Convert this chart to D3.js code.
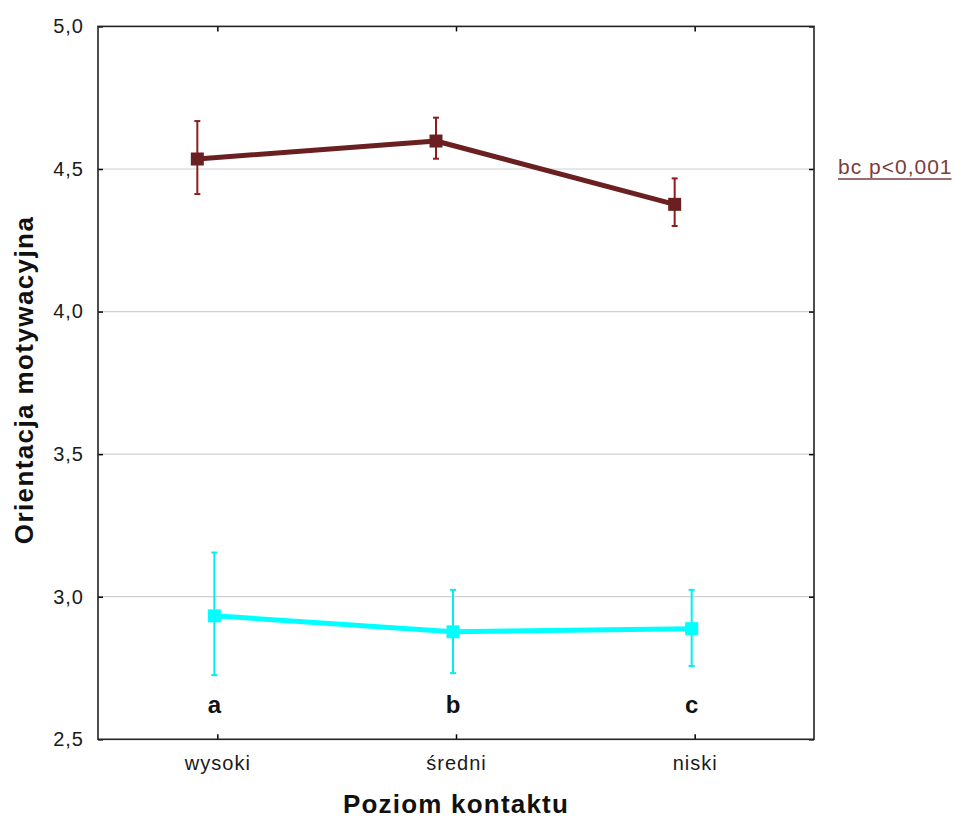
<!DOCTYPE html>
<html><head><meta charset="utf-8">
<script src="https://cdn.jsdelivr.net/npm/d3@7"></script>
<style>body{margin:0;background:#fff;}svg{display:block;font-family:"Liberation Sans",Arial,sans-serif;}</style>
</head><body>
<svg id="c" width="956" height="818"></svg>
<script>
const categories = ["wysoki", "średni", "niski"];
const groupLetters = ["a", "b", "c"];
const yTicks = [2.5, 3.0, 3.5, 4.0, 4.5, 5.0];
const highMean = [4.535, 4.598, 4.376];
const highLow  = [4.412, 4.536, 4.300];
const highHigh = [4.668, 4.680, 4.467];
const lowMean  = [2.933, 2.877, 2.888];
const lowLow   = [2.725, 2.732, 2.757];
const lowHigh  = [3.155, 3.024, 3.024];
const noteText = "bc p<0,001";

const svg = d3.select("#c");
const L = 98, R = 814, T = 26.4, B = 739.3;
const x = d3.scalePoint().domain(categories).range([L, R]).padding(0.5);
const y = d3.scaleLinear().domain([2.5, 5.0]).range([B, T]);
const fmt = d => d.toFixed(1).replace(".", ",");

// gridlines
svg.append("g").selectAll("line").data(yTicks.filter(d => d > 2.5 && d < 5)).join("line")
  .attr("x1", L).attr("x2", R).attr("y1", d => y(d)).attr("y2", d => y(d))
  .attr("stroke", "#d0d0d0").attr("stroke-width", 1.2);

// axes with inward ticks
const axL = svg.append("g").attr("transform", `translate(${L},0)`)
  .call(d3.axisLeft(y).tickValues(yTicks).tickFormat(fmt).tickSizeInner(-5).tickSizeOuter(0).tickPadding(14));
const axR = svg.append("g").attr("transform", `translate(${R},0)`)
  .call(d3.axisRight(y).tickValues(yTicks).tickFormat("").tickSizeInner(-5).tickSizeOuter(0));
const axB = svg.append("g").attr("transform", `translate(0,${B})`)
  .call(d3.axisBottom(x).tickSizeInner(-5).tickSizeOuter(0).tickPadding(17));
const axT = svg.append("g").attr("transform", `translate(0,${T})`)
  .call(d3.axisTop(x).tickFormat("").tickSizeInner(-5).tickSizeOuter(0));
[axL, axR, axB, axT].forEach(a => {
  a.select(".domain").remove();
  a.selectAll(".tick line").attr("stroke", "#000").attr("stroke-width", 1.5);
  a.selectAll("text").attr("font-size", 20).attr("letter-spacing", 1).attr("fill", "#1a1a1a")
    .attr("font-family", "Liberation Sans, Arial, sans-serif");
});
svg.append("rect").attr("x", L).attr("y", T).attr("width", R - L).attr("height", B - T)
  .attr("fill", "none").attr("stroke", "#222").attr("stroke-width", 1.6);

function series(mean, lo, hi, dx, lineColor, errColor, ms, lw) {
  const g = svg.append("g");
  const pts = categories.map((c, i) => ({ x: x(c) + dx, m: mean[i], lo: lo[i], hi: hi[i] }));
  g.selectAll("line.err").data(pts).join("line").attr("x1", d => d.x).attr("x2", d => d.x)
    .attr("y1", d => y(d.lo)).attr("y2", d => y(d.hi)).attr("stroke", errColor).attr("stroke-width", 2);
  ["lo", "hi"].forEach(k => g.selectAll("line.cap" + k).data(pts).join("line")
    .attr("x1", d => d.x - 3).attr("x2", d => d.x + 3)
    .attr("y1", d => y(d[k])).attr("y2", d => y(d[k])).attr("stroke", errColor).attr("stroke-width", 2));
  g.append("path").datum(pts).attr("fill", "none").attr("stroke", lineColor).attr("stroke-width", lw)
    .attr("stroke-linejoin", "round")
    .attr("d", d3.line().x(d => d.x).y(d => y(d.m)));
  g.selectAll("rect").data(pts).join("rect").attr("x", d => d.x - ms / 2).attr("y", d => y(d.m) - ms / 2)
    .attr("width", ms).attr("height", ms).attr("fill", lineColor);
}
series(highMean, highLow, highHigh, -20, "#6a2020", "#8f1c1c", 13, 5);
series(lowMean, lowLow, lowHigh, -3, "#00ffff", "#00f0f0", 13, 5);

// group letters
svg.append("g").selectAll("text").data(categories).join("text")
  .attr("x", d => x(d) - 3).attr("y", y(2.62) + 8).attr("text-anchor", "middle")
  .attr("font-size", 24).attr("font-weight", "bold").attr("fill", "#111")
  .text((d, i) => groupLetters[i]);

// note
const nt = svg.append("text").attr("x", 838).attr("y", y(4.5) + 5).attr("font-size", 21)
  .attr("letter-spacing", 1).attr("fill", "#7a3c3c").text(noteText);
const bb = nt.node().getBBox();
svg.append("line").attr("x1", bb.x).attr("x2", bb.x + bb.width - 1).attr("y1", y(4.5) + 10).attr("y2", y(4.5) + 10)
  .attr("stroke", "#7a3c3c").attr("stroke-width", 1.5);

// axis titles
svg.append("text").attr("x", (L + R) / 2).attr("y", 813).attr("text-anchor", "middle")
  .attr("font-size", 26).attr("letter-spacing", 1.2).attr("font-weight", "bold").attr("fill", "#111").text("Poziom kontaktu");
svg.append("text").attr("transform", `translate(33,380) rotate(-90)`).attr("text-anchor", "middle")
  .attr("font-size", 26).attr("letter-spacing", 1.4).attr("font-weight", "bold").attr("fill", "#111").text("Orientacja motywacyjna");
</script>
</body></html>
